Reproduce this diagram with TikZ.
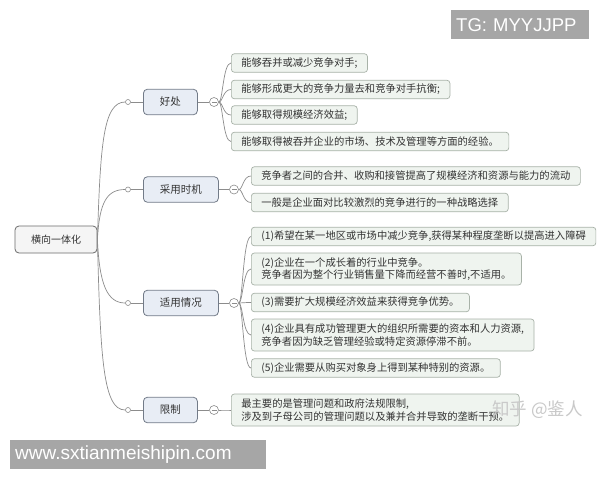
\documentclass[tikz,border=0pt]{standalone}
\usepackage{fontspec}
\setmainfont{Noto Sans CJK SC}
\newfontfamily\wmfont{Liberation Sans}
\definecolor{lineC}{HTML}{8C8C8C}
\definecolor{rootFill}{HTML}{F5F5F5}
\definecolor{rootDraw}{HTML}{6B6B6B}
\definecolor{lOneFill}{HTML}{E8EDF5}
\definecolor{lOneDraw}{HTML}{727B88}
\definecolor{lTwoFill}{HTML}{EFF4EF}
\definecolor{lTwoDraw}{HTML}{A8B2A8}
\definecolor{txt}{HTML}{333333}
\definecolor{badge}{HTML}{A6A6A6}
\definecolor{wmark}{HTML}{C9C9C9}
\begin{document}
\begin{tikzpicture}[x=1pt,y=-1pt,
  rootbox/.style={draw=rootDraw, fill=rootFill, rounded corners=4pt, line width=0.8pt,
    minimum width=82pt, minimum height=27pt, inner sep=0pt, font=\fontsize{10}{12}\selectfont, text=txt},
  topicbox/.style={draw=lOneDraw, fill=lOneFill, rounded corners=4pt, line width=0.8pt,
    minimum height=25.5pt, inner sep=0pt, anchor=west, font=\fontsize{10.5}{12}\selectfont, text=txt},
  leafbox/.style={draw=lTwoDraw, fill=lTwoFill, rounded corners=3pt, line width=0.7pt, anchor=west,
    font=\fontsize{10.3}{12.5}\selectfont, text=txt, inner xsep=10pt, inner ysep=3pt,
    minimum height=18.5pt, align=left},
  knob/.style={circle, draw=lineC, fill=white, minimum size=5pt, inner sep=0pt, line width=0.6pt},
  fold/.style={circle, draw=lineC, fill=white, minimum size=9pt, inner sep=0pt, line width=0.6pt,
    path picture={\draw[lineC,line width=0.6pt] ([xshift=-2.5pt]path picture bounding box.center) -- ([xshift=2.5pt]path picture bounding box.center);}},
  link/.style={draw=lineC, line width=0.7pt},
  badgebox/.style={fill=badge, text=white, inner xsep=5pt, inner ysep=0pt, anchor=north west, align=left}
]
\fill[white] (0,0) rectangle (600,480);
\useasboundingbox (0,0) rectangle (600,480);

% root
\node[rootbox] (root) at (56,239.5) {横向一体化};

% level 1
\node[topicbox, minimum width=54pt] (t1) at (143,102) {好处};
\node[topicbox, minimum width=75pt] (t2) at (143,189.5) {采用时机};
\node[topicbox, minimum width=75pt] (t3) at (143,303) {适用情况};
\node[topicbox, minimum width=54pt] (t4) at (143,410) {限制};

\node[knob] (k1) at (128,102) {};
\node[knob] (k2) at (128,189.5) {};
\node[knob] (k3) at (128,303) {};
\node[knob] (k4) at (128,410) {};

\node[fold] (f1) at (214,102) {};
\node[fold] (f2) at (234,189.5) {};
\node[fold] (f3) at (234,303) {};
\node[fold] (f4) at (214,410) {};

% level 2
\node[leafbox] (h1) at (231,63) {能够吞并或减少竞争对手;};
\node[leafbox] (h2) at (231,89.5) {能够形成更大的竞争力量去和竞争对手抗衡;};
\node[leafbox] (h3) at (231,115) {能够取得规模经济效益;};
\node[leafbox] (h4) at (231,141.5) {能够取得被吞并企业的市场、技术及管理等方面的经验。};

\node[leafbox] (c1) at (251,176) {竞争者之间的合并、收购和接管提高了规模经济和资源与能力的流动};
\node[leafbox] (c2) at (251,202.5) {一般是企业面对比较激烈的竞争进行的一种战略选择};

\node[leafbox] (s1) at (251,236.5) {(1)希望在某一地区或市场中减少竞争,获得某种程度垄断以提高进入障碍};
\node[leafbox, minimum height=32pt] (s2) at (251,269) {(2)企业在一个成长着的行业中竞争。\\竞争者因为整个行业销售量下降而经营不善时,不适用。};
\node[leafbox] (s3) at (251,302.5) {(3)需要扩大规模经济效益来获得竞争优势。};
\node[leafbox, minimum height=32pt] (s4) at (251,335) {(4)企业具有成功管理更大的组织所需要的资本和人力资源,\\竞争者因为缺乏管理经验或特定资源停滞不前。};
\node[leafbox] (s5) at (251,368) {(5)企业需要从购买对象身上得到某种特别的资源。};

\node[leafbox, minimum height=32pt] (x1) at (231,410) {最主要的是管理问题和政府法规限制,\\涉及到子母公司的管理问题以及兼并合并导致的垄断干预。};

% connectors root -> knobs
\draw[link] (root.east) .. controls +(3,-95) and +(-22,0) .. (k1.west);
\draw[link] (root.east) .. controls +(2,-38) and +(-18,0) .. (k2.west);
\draw[link] (root.east) .. controls +(2,45) and +(-18,0) .. (k3.west);
\draw[link] (root.east) .. controls +(3,120) and +(-22,0) .. (k4.west);

\foreach \k/\t/\f in {k1/t1/f1,k2/t2/f2,k3/t3/f3,k4/t4/f4}{
  \draw[link] (\k.east) -- (\t.west);
  \draw[link] (\t.east) -- (\f.west);
}

\foreach \f/\b in {f1/h1,f1/h2,f1/h3,f1/h4,f2/c1,f2/c2,f3/s1,f3/s2,f3/s3,f3/s4,f3/s5,f4/x1}{
  \draw[link] (\f.east) .. controls +(4,0) and +(-8,0) .. (\b.west);
}

% watermarks
\node[text=wmark, font=\fontsize{17.5}{19}\selectfont, inner sep=0pt] (zh) at (537.5,410) {知乎 @鉴人};
\node[badgebox, text width=128pt, minimum height=29pt, font=\wmfont\fontsize{18.5}{20}\selectfont] (tg) at (451,10) {TG: MYYJJPP};
\node[badgebox, text width=246pt, minimum height=29pt, font=\wmfont\fontsize{19}{21}\selectfont] (www) at (10,440) {www.sxtianmeishipin.com};
\end{tikzpicture}
\end{document}
